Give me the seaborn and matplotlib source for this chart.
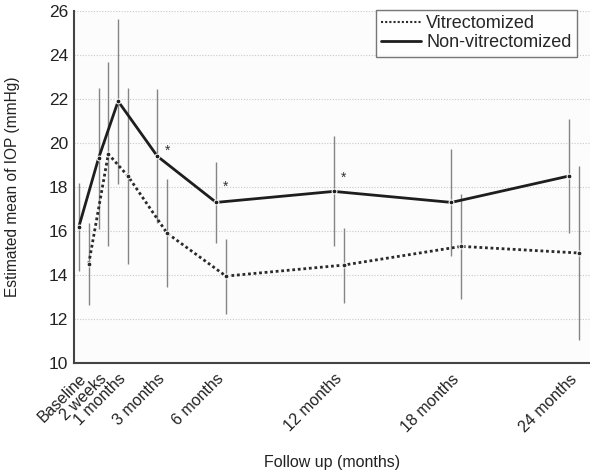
import numpy as np
import pandas as pd
import matplotlib
matplotlib.use("Agg")
import matplotlib.pyplot as plt
import seaborn as sns
from matplotlib.ticker import MultipleLocator
from matplotlib.lines import Line2D

# ---- data ----
time_labels = ["Baseline", "2 weeks", "1 months", "3 months", "6 months",
               "12 months", "18 months", "24 months"]
time_pos = [0, 1, 2, 4, 7, 13, 19, 25]
nonvit_mean = [16.2, 19.3, 21.9, 19.4, 17.3, 17.8, 17.3, 18.5]
nonvit_err = [2.0, 3.2, 3.75, 3.05, 1.85, 2.5, 2.45, 2.6]
vit_mean = [14.5, 19.5, 18.5, 15.9, 13.95, 14.45, 15.3, 15.0]
vit_err = [1.85, 4.2, 4.0, 2.45, 1.7, 1.7, 2.4, 3.95]
star_pos = [4, 7, 13]
star_val = [19.65, 18.0, 18.4]
group_names = ["Vitrectomized", "Non-vitrectomized"]

offset = 0.5
df = pd.concat([
    pd.DataFrame({"x": np.array(time_pos) + offset, "y": vit_mean, "err": vit_err,
                  "group": group_names[0]}),
    pd.DataFrame({"x": np.array(time_pos, dtype=float), "y": nonvit_mean, "err": nonvit_err,
                  "group": group_names[1]}),
], ignore_index=True)

sns.set_theme(style="white")
plt.rcParams["font.family"] = ["Liberation Sans", "DejaVu Sans"]

W, H = 590, 471
L, R, T, B = 74, 590, 11, 363
fig = plt.figure(figsize=(W / 100, H / 100), dpi=100)
ax = fig.add_axes([L / W, 1 - B / H, (R - L) / W, (B - T) / H])
ax.set_facecolor("#fcfcfc")

# error bars
for g, sub in df.groupby("group"):
    ax.errorbar(sub["x"], sub["y"], yerr=sub["err"], fmt="none", ecolor="#858585",
                elinewidth=1.0, capsize=0, zorder=2)

sns.lineplot(data=df, x="x", y="y", hue="group", style="group",
             palette={group_names[0]: "#2a2a2a", group_names[1]: "#1e1e1e"},
             dashes={group_names[0]: (1, 1), group_names[1]: ""},
             markers={group_names[0]: "o", group_names[1]: "o"},
             markersize=3.5, linewidth=2.0, sort=False, legend=False, ax=ax, zorder=3)

for xp, v in zip(star_pos, star_val):
    ax.text(xp + offset, v, "*", ha="center", va="center", fontsize=10, color="#333333")

ax.set_xlim(-0.25, 26.07)
ax.set_ylim(10, 26)
ax.set_yticks(np.arange(10, 27, 2))
ax.set_xticks(time_pos)
ax.set_xticklabels(time_labels, rotation=45, ha="right", rotation_mode="anchor",
                   fontsize=11.5, color="#222222")
ax.xaxis.set_minor_locator(MultipleLocator(0.5))
ax.tick_params(axis="x", which="both", direction="in", length=3, width=1, color="#555555", pad=6)
ax.tick_params(axis="y", which="major", direction="in", length=3, width=1, color="#555555",
               labelsize=12.5, labelcolor="#222222", pad=4)
ax.yaxis.grid(True, linestyle=(0, (1, 1.5)), color="#c8c8c8", linewidth=0.8)
ax.set_axisbelow(True)

for side in ["top", "right"]:
    ax.spines[side].set_visible(False)
for side in ["left", "bottom"]:
    ax.spines[side].set_color("#444444")
    ax.spines[side].set_linewidth(1.5)

ax.set_xlabel("Follow up (months)", fontsize=11.5, color="#222222", labelpad=0)
ax.xaxis.set_label_coords((332 - L) / (R - L), -(455 - B) / (B - T))
ax.set_ylabel("Estimated mean of IOP (mmHg)", fontsize=11.2, color="#222222")
ax.yaxis.set_label_coords(-(L - 20) / (R - L), 0.5)

handles = [Line2D([], [], color="#2a2a2a", linestyle=(0, (1, 1)), linewidth=1.5),
           Line2D([], [], color="#1e1e1e", linestyle="-", linewidth=2.0)]
leg = ax.legend(handles, group_names, loc="upper right",
                bbox_to_anchor=((577 - L) / (R - L), 1 - (10 - T) / (B - T)),
                fontsize=13, frameon=True, fancybox=False, handlelength=2.2,
                handletextpad=0.3, borderpad=0.3, labelspacing=0.1, borderaxespad=0)
leg.get_frame().set_edgecolor("#555555")
leg.get_frame().set_linewidth(1.0)
leg.get_frame().set_facecolor("white")

fig.savefig("out.png", dpi=100)
